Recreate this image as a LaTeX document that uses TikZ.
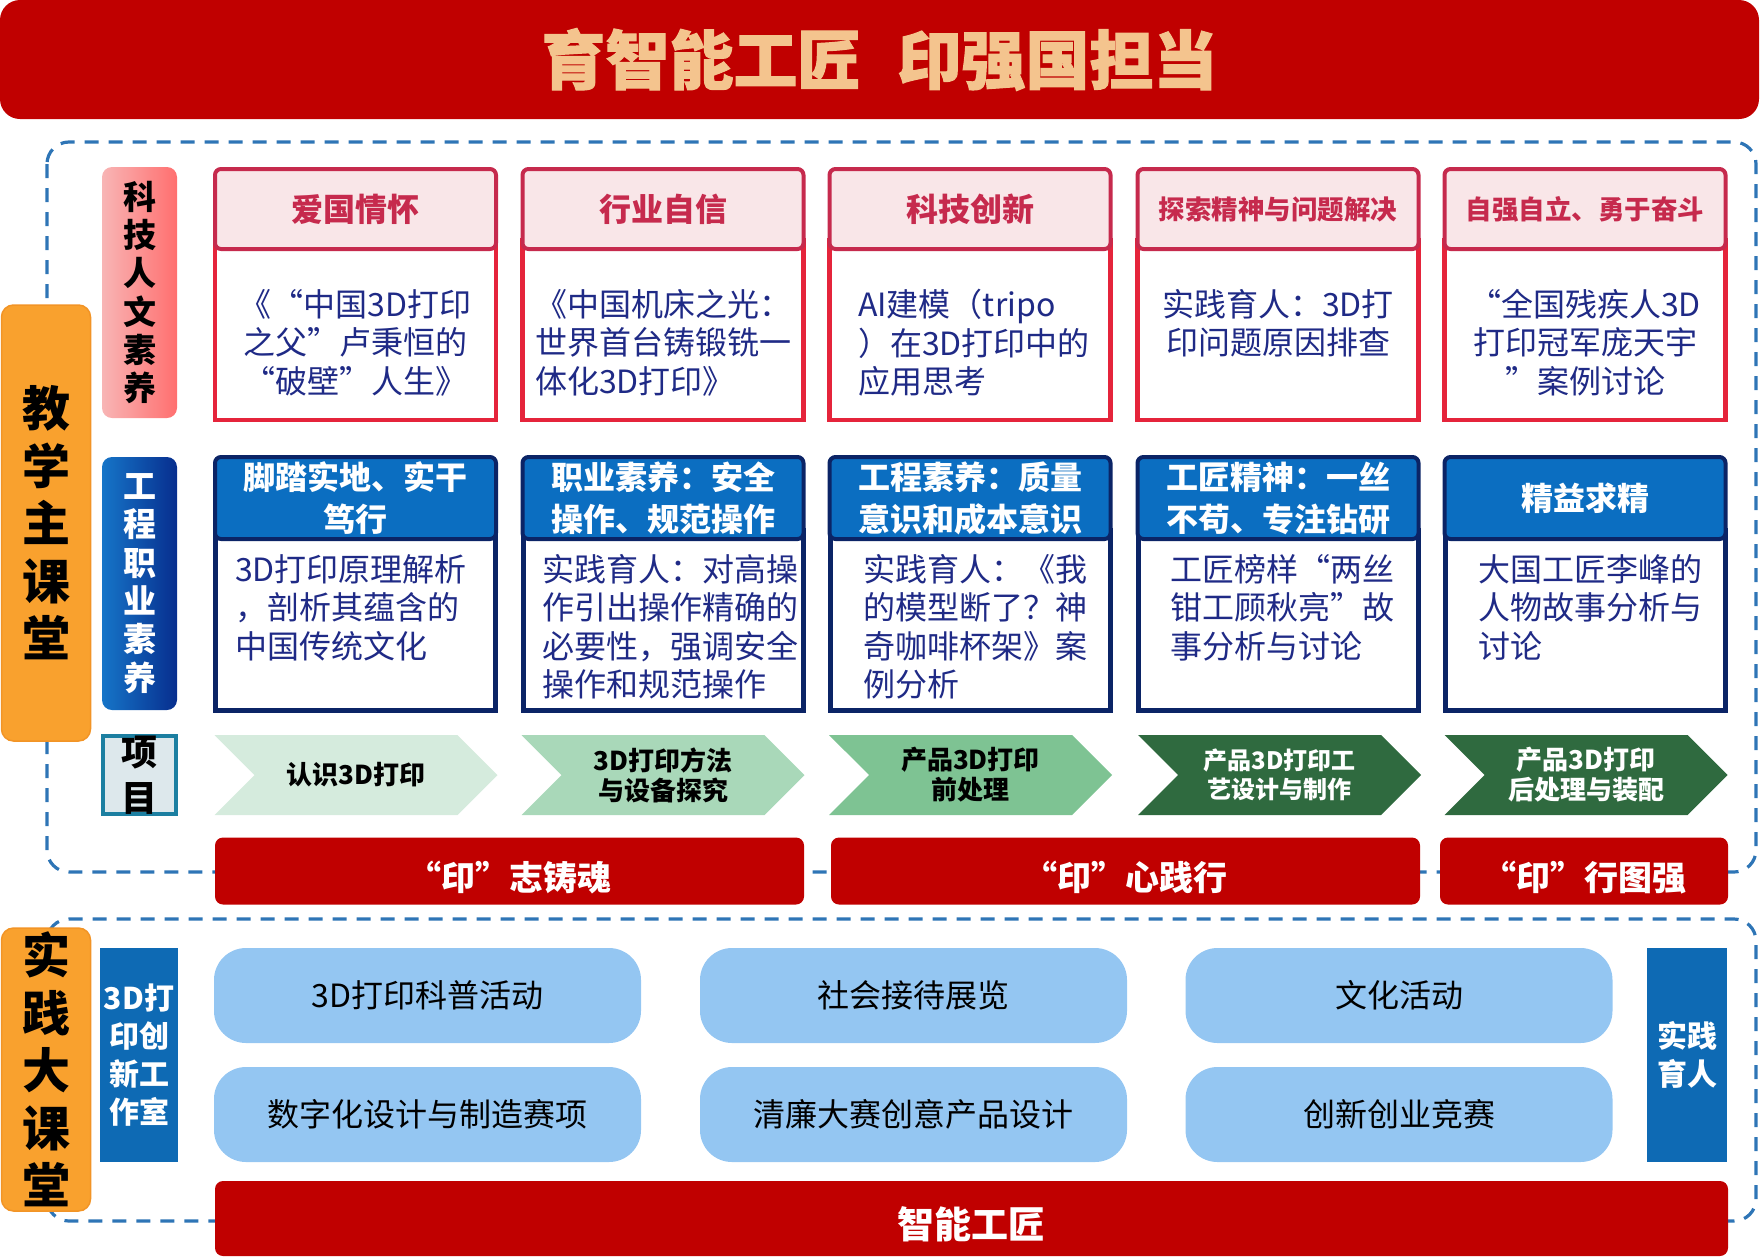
\documentclass[tikz,border=0pt]{standalone}
\usepackage{fontspec}
\setmainfont{Noto Sans CJK SC}
\newfontfamily\titlefont[BoldFeatures={FakeBold=1.6}]{Noto Sans CJK SC}
\usetikzlibrary{positioning,shapes.symbols}
\definecolor{titlered}{HTML}{C00000}
\definecolor{titlegold}{HTML}{F4C48E}
\definecolor{dashblue}{HTML}{2E75B6}
\definecolor{orangefill}{HTML}{F9A12E}
\definecolor{orangeedge}{HTML}{F29426}
\definecolor{pinklight}{HTML}{F8B5B5}
\definecolor{pinkdeep}{HTML}{FF6F6F}
\definecolor{bluelight}{HTML}{1675C8}
\definecolor{bluedeep}{HTML}{072E8E}
\definecolor{crimson}{HTML}{C62A4D}
\definecolor{pinkhead}{HTML}{F9E6E8}
\definecolor{redline}{HTML}{E5243B}
\definecolor{textblue}{HTML}{1F2A86}
\definecolor{navy}{HTML}{0B2466}
\definecolor{headblue}{HTML}{0B6EC1}
\definecolor{itemedge}{HTML}{1C7FA1}
\definecolor{itemfill}{HTML}{DDE8EC}
\definecolor{stepa}{HTML}{D5EBDD}
\definecolor{stepb}{HTML}{A9D8B9}
\definecolor{stepc}{HTML}{7EC393}
\definecolor{stepd}{HTML}{2F6A3F}
\definecolor{skyblue}{HTML}{94C6F2}
\definecolor{tagblue}{HTML}{0E6AB4}

\begin{document}
\begin{tikzpicture}[x=1pt,y=-1pt,
  dashbox/.style={draw=dashblue,line width=3.2pt,dash pattern=on 14pt off 10pt,rounded corners=22pt},
  titlebar/.style={fill=titlered,rounded corners=20pt,minimum width=1759pt,minimum height=119pt,text=titlegold,font=\titlefont\bfseries\fontsize{64}{70}\selectfont},
  sidebox/.style={draw=orangeedge,line width=1.5pt,fill=orangefill,rounded corners=12pt,minimum width=89pt,inner sep=0pt,align=center,font=\bfseries\fontsize{48}{57.5}\selectfont},
  tagbox/.style={rounded corners=10pt,minimum width=75pt,inner sep=0pt,align=center,font=\bfseries\fontsize{33}{38.3}\selectfont},
  itembox/.style={draw=itemedge,line width=4pt,fill=itemfill,minimum width=73pt,minimum height=78pt,inner sep=0pt,align=center,font=\bfseries\fontsize{36}{46}\selectfont},
  uhead/.style={draw=crimson,line width=4pt,fill=pinkhead,rounded corners=6pt,minimum width=281pt,minimum height=80pt,inner sep=0pt,text=crimson,font=\bfseries\fontsize{32}{38}\selectfont},
  ubody/.style={draw=redline,line width=4.5pt,fill=white,minimum width=281pt,minimum height=180pt},
  lhead/.style={draw=navy,line width=4pt,fill=headblue,rounded corners=6pt,minimum width=281pt,minimum height=82pt,inner sep=0pt,text=white,align=center,font=\bfseries\fontsize{32}{42}\selectfont},
  lbody/.style={draw=navy,line width=5pt,fill=white,minimum width=280pt,minimum height=180pt},
  btext/.style={inner sep=0pt,text=textblue,font=\fontsize{32}{38.5}\selectfont},
  chev/.style={shape=signal,signal from=west,signal to=east,signal pointer angle=90,minimum width=283pt,minimum height=80pt,inner sep=0pt,align=center,font=\bfseries\fontsize{26}{30}\selectfont},
  redbar/.style={fill=titlered,rounded corners=8pt,minimum height=67pt,inner sep=0pt,text height=42pt,text depth=4pt,text=white,font=\bfseries\fontsize{34}{40}\selectfont},
  activity/.style={fill=skyblue,rounded corners=32pt,minimum width=427pt,minimum height=95pt,font=\fontsize{32}{36}\selectfont},
  bluetag/.style={fill=tagblue,minimum height=214pt,inner sep=0pt,text=white,align=center,font=\bfseries\fontsize{30}{38}\selectfont}
]
\useasboundingbox (0,0) rectangle (1761,1256);
\draw[dashbox] (47,142) rectangle (1756,872);
\draw[dashbox] (47,919) rectangle (1756,1221);
\node[titlebar] (title) at (879.5,59.5) {育智能工匠\hspace{36pt}印强国担当};
\node[sidebox,minimum height=436pt] (jxzkt) at (46,523) {教\\学\\主\\课\\堂};
\node[sidebox,minimum height=283pt] (sjdkt) at (46,1069.5) {实\\践\\大\\课\\堂};
\node[tagbox,left color=pinklight,right color=pinkdeep,minimum height=251pt] (kjrw) at (139.5,292.5) {科\\技\\人\\文\\素\\养};
\node[tagbox,left color=bluelight,right color=bluedeep,text=white,minimum height=253pt] (gczy) at (139.5,583.5) {工\\程\\职\\业\\素\\养};
\node[itembox] (xm) at (139,775) {项\\目};

\node[ubody] (ub1) at (355.5,330) {};
\node[uhead] (uh1) at (355.5,209) {爱国情怀};
\node[btext,align=center,anchor=north] (ut1) at (355.5,289) {《“中国3D打印\\之父”卢秉恒的\\“破壁”人生》};
\node[ubody] (ub2) at (663,330) {};
\node[uhead] (uh2) at (663,209) {行业自信};
\node[btext,align=left,anchor=north] (ut2) at (663,289) {《中国机床之光：\\世界首台铸锻铣一\\体化3D打印》};
\node[ubody] (ub3) at (970,330) {};
\node[uhead] (uh3) at (970,209) {科技创新};
\node[btext,align=left,anchor=north] (ut3) at (974,289) {AI建模（tripo\\）在3D打印中的\\应用思考};
\node[ubody] (ub4) at (1278,330) {};
\node[uhead,font=\bfseries\fontsize{26.5}{32}\selectfont] (uh4) at (1278,209) {探索精神与问题解决};
\node[btext,align=center,anchor=north] (ut4) at (1278,289) {实践育人：3D打\\印问题原因排查};
\node[ubody] (ub5) at (1585,330) {};
\node[uhead,font=\bfseries\fontsize{26.5}{32}\selectfont] (uh5) at (1585,209) {自强自立、勇于奋斗};
\node[btext,align=center,anchor=north] (ut5) at (1585,289) {“全国残疾人3D\\打印冠军庞天宇\\”案例讨论};

\node[lbody] (lb1) at (355.5,620) {};
\node[lhead] (lh1) at (355.5,498) {脚踏实地、实干\\笃行};
\node[btext,align=left,anchor=north west] (lt1) at (235,554) {3D打印原理解析\\，剖析其蕴含的\\中国传统文化};
\node[lbody] (lb2) at (663,620) {};
\node[lhead] (lh2) at (663,498) {职业素养：安全\\操作、规范操作};
\node[btext,align=left,anchor=north west] (lt2) at (542,554) {实践育人：对高操\\作引出操作精确的\\必要性，强调安全\\操作和规范操作};
\node[lbody] (lb3) at (970,620) {};
\node[lhead] (lh3) at (970,498) {工程素养：质量\\意识和成本意识};
\node[btext,align=left,anchor=north west] (lt3) at (863,554) {实践育人：《我\\的模型断了？神\\奇咖啡杯架》案\\例分析};
\node[lbody] (lb4) at (1278,620) {};
\node[lhead] (lh4) at (1278,498) {工匠精神：一丝\\不苟、专注钻研};
\node[btext,align=left,anchor=north west] (lt4) at (1170,554) {工匠榜样“两丝\\钳工顾秋亮”故\\事分析与讨论};
\node[lbody] (lb5) at (1585,620) {};
\node[lhead] (lh5) at (1585,498) {精益求精};
\node[btext,align=left,anchor=north west] (lt5) at (1478,554) {大国工匠李峰的\\人物故事分析与\\讨论};

\node[chev,fill=stepa] (p1) at (356,775) {认识3D打印};
\node[chev,fill=stepb] (p2) at (663,775) {3D打印方法\\与设备探究};
\node[chev,fill=stepc] (p3) at (970.5,775) {产品3D打印\\前处理};
\node[chev,fill=stepd,text=white,font=\bfseries\fontsize{24}{29}\selectfont] (p4) at (1279.5,775) {产品3D打印工\\艺设计与制作};
\node[chev,fill=stepd,text=white] (p5) at (1586,775) {产品3D打印\\后处理与装配};

\node[redbar,minimum width=589pt] (yzzh) at (509.5,871) {“印”志铸魂};
\node[redbar,minimum width=589pt] (yxjx) at (1125.5,871) {“印”心践行};
\node[redbar,minimum width=288pt] (yxtq) at (1584,871) {“印”行图强};

\node[bluetag,minimum width=78pt] (gzs) at (139,1055) {3D打\\印创\\新工\\作室};
\node[activity] (kphd) at (427.5,995.5) {3D打印科普活动};
\node[activity] (shjd) at (913.5,995.5) {社会接待展览};
\node[activity] (whhd) at (1399,995.5) {文化活动};
\node[activity] (szhsj) at (427.5,1114.5) {数字化设计与制造赛项};
\node[activity] (qlds) at (913.5,1114.5) {清廉大赛创意产品设计};
\node[activity] (cxcy) at (1399,1114.5) {创新创业竞赛};
\node[bluetag,minimum width=80pt] (sjyr) at (1687,1055) {实践\\育人};
\node[redbar,minimum width=1513pt,minimum height=75pt,text height=44pt,text depth=4pt,font=\bfseries\fontsize{37}{42}\selectfont] (znggj) at (971.5,1218.5) {智能工匠};
\end{tikzpicture}
\end{document}
